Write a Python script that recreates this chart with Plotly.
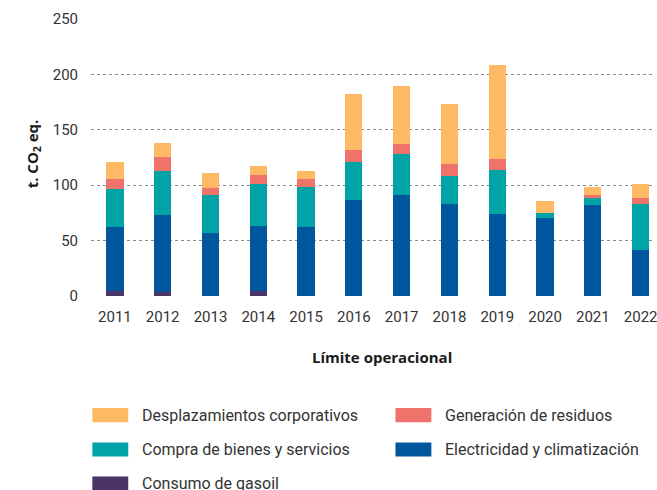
import plotly.graph_objects as go

years = ["2011", "2012", "2013", "2014", "2015", "2016", "2017", "2018", "2019", "2020", "2021", "2022"]
gasoil = [4.2, 3.6, 0, 4.2, 0, 0, 0, 0, 0, 0, 0, 0]
electricidad = [57.8, 69.3, 56.6, 58.8, 62.0, 86.4, 91.0, 82.8, 73.8, 70.2, 81.9, 41.3]
compra = [34.4, 39.7, 34.4, 37.9, 36.2, 34.4, 37.5, 25.2, 39.8, 4.5, 6.3, 41.5]
residuos = [9.0, 12.7, 6.3, 8.1, 7.2, 10.8, 9.0, 10.9, 9.9, 0, 2.8, 5.4]
desplazamientos = [15.4, 12.7, 13.5, 8.2, 7.2, 50.6, 51.9, 54.3, 84.9, 10.8, 7.2, 12.7]

series = [
    ("Consumo de gasoil", gasoil, "#4B3468"),
    ("Electricidad y climatización", electricidad, "#00579E"),
    ("Compra de bienes y servicios", compra, "#00A3A6"),
    ("Generación de residuos", residuos, "#EF736B"),
    ("Desplazamientos corporativos", desplazamientos, "#FDB964"),
]
legend_order = [
    "Desplazamientos corporativos", "Generación de residuos",
    "Compra de bienes y servicios", "Electricidad y climatización",
    "Consumo de gasoil",
]
colors = {n: c for n, _, c in series}

W, H = 657, 490
L, R, T, B = 91.35, 657.0, 19.0, 295.7
FONT = "Roboto"
TFONT = "Open Sans"

fig = go.Figure()
for name, vals, col in series:
    fig.add_trace(go.Bar(x=years, y=vals, name=name, marker=dict(color=col, line=dict(width=0)),
                         showlegend=False))

def px(x):
    return (x - L) / (R - L)

def py(y):
    return (B - y) / (B - T)

annotations = [
    dict(text="<b>t. CO<sub>2</sub> eq.</b>", x=px(33.4), y=py(154), xref="paper", yref="paper",
         textangle=-90, showarrow=False, font=dict(family=TFONT, size=15, color="#1a1a1a"),
         xanchor="center", yanchor="middle"),
    dict(text="<b>Límite operacional</b>", x=px(383), y=py(357), xref="paper", yref="paper",
         showarrow=False, font=dict(family=TFONT, size=15, color="#1a1a1a"),
         xanchor="center", yanchor="middle"),
]
shapes = []
cols_x = [92.7, 396.7]
rows_y = [414.7, 449.0, 483.0]
for i, name in enumerate(legend_order):
    cx = cols_x[i % 2]
    cy = rows_y[i // 2]
    shapes.append(dict(type="rect", xref="paper", yref="paper",
                       x0=px(cx), x1=px(cx + 36), y0=py(cy - 7), y1=py(cy + 7),
                       fillcolor=colors[name], line=dict(width=0)))
    annotations.append(dict(text=name, x=px(cx + 48), y=py(cy), xref="paper", yref="paper",
                            showarrow=False, xanchor="left", yanchor="middle",
                            font=dict(family=FONT, size=16, color="#333")))

fig.update_layout(
    width=W, height=H,
    margin=dict(l=L, r=W - R, t=T, b=H - B, pad=0),
    barmode="stack", bargap=0.64,
    plot_bgcolor="white", paper_bgcolor="white",
    font=dict(family=FONT, color="#333"),
    xaxis=dict(type="category", range=[-0.5, 11.30], showgrid=False, showline=False,
               ticks="", tickfont=dict(size=15, color="#333"), ticklabelstandoff=10),
    yaxis=dict(range=[0, 250], tickvals=[0, 50, 100, 150, 200, 250], showgrid=True,
               gridcolor="#8c8c8c", griddash="dot", gridwidth=1, zeroline=False,
               showline=False, ticks="", tickfont=dict(size=15, color="#333"),
               ticklabelstandoff=12),
    annotations=annotations,
    shapes=shapes,
    showlegend=False,
)

fig.write_html("out.html")
